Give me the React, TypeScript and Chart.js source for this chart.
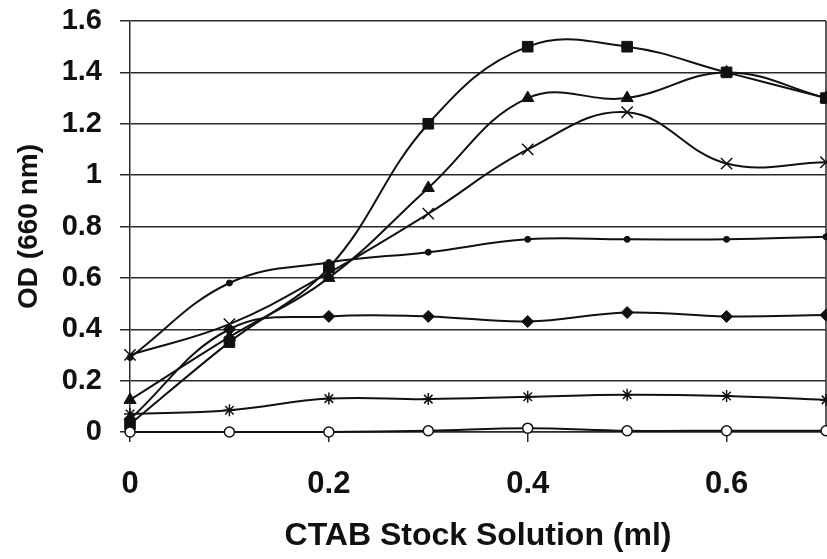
import React, { useEffect, useRef } from "react";
import { Chart, registerables } from "chart.js";

Chart.register(...registerables);

const xValues = [0, 0.1, 0.2, 0.3, 0.4, 0.5, 0.6, 0.7];
const xTickValues = [0, 0.2, 0.4, 0.6];
const seriesSquare = [0.03, 0.35, 0.64, 1.2, 1.5, 1.5, 1.4, 1.3];
const seriesTriangle = [0.125, 0.37, 0.6, 0.95, 1.3, 1.3, 1.4, 1.3];
const seriesCross = [0.3, 0.42, 0.62, 0.85, 1.1, 1.245, 1.045, 1.05];
const seriesDot = [0.29, 0.58, 0.66, 0.7, 0.75, 0.75, 0.75, 0.76];
const seriesDiamond = [0.05, 0.4, 0.45, 0.45, 0.43, 0.465, 0.45, 0.455];
const seriesStar = [0.07, 0.085, 0.13, 0.128, 0.137, 0.145, 0.14, 0.125];
const seriesCircle = [0, 0, 0, 0.005, 0.015, 0.005, 0.005, 0.005];

const xTitle = "CTAB Stock Solution (ml)";
const yTitle = "OD (660 nm)";

const FONT = "'Liberation Sans', Arial, Helvetica, sans-serif";
const INK = "#111";
const GRID = "#2a2a2a";

function toPoints(values: number[]) {
  return values.map((y, i) => ({ x: xValues[i], y }));
}

const rightBorder = {
  id: "rightBorder",
  beforeDatasetsDraw(chart: any) {
    const { ctx, chartArea } = chart;
    ctx.save();
    ctx.strokeStyle = GRID;
    ctx.lineWidth = 1.5;
    ctx.beginPath();
    ctx.moveTo(chartArea.right, chartArea.top);
    ctx.lineTo(chartArea.right, chartArea.bottom);
    ctx.stroke();
    ctx.restore();
  },
};

export default function App() {
  const ref = useRef<HTMLCanvasElement | null>(null);

  useEffect(() => {
    if (!ref.current) return;
    const base = {
      borderColor: INK,
      borderWidth: 2,
      tension: 0.4,
      pointBorderColor: INK,
      pointBackgroundColor: INK,
      fill: false,
      clip: 12,
    };
    const chart = new Chart(ref.current, {
      type: "line",
      data: {
        datasets: [
          { ...base, label: "circle", data: toPoints(seriesCircle), pointStyle: "circle", pointRadius: 5, pointBackgroundColor: "#fff", pointBorderWidth: 1.5 },
          { ...base, label: "star", data: toPoints(seriesStar), pointStyle: "star", pointRadius: 6, pointBorderWidth: 1.5 },
          { ...base, label: "diamond", data: toPoints(seriesDiamond), pointStyle: "rectRot", pointRadius: 6, pointBorderWidth: 1 },
          { ...base, label: "dot", data: toPoints(seriesDot), pointStyle: "circle", pointRadius: 3, pointBorderWidth: 1 },
          { ...base, label: "cross", data: toPoints(seriesCross), pointStyle: "crossRot", pointRadius: 8, pointBorderWidth: 1.5 },
          { ...base, label: "triangle", data: toPoints(seriesTriangle), pointStyle: "triangle", pointRadius: 7, pointBorderWidth: 1 },
          { ...base, label: "square", data: toPoints(seriesSquare), pointStyle: "rect", pointRadius: 7.5, pointBorderWidth: 1 },
        ],
      },
      options: {
        animation: false,
        responsive: true,
        maintainAspectRatio: false,
        layout: { autoPadding: false, padding: { top: 21, right: 1, left: 0, bottom: 0 } },
        plugins: {
          legend: { display: false },
          tooltip: { enabled: false },
        },
        scales: {
          x: {
            type: "linear",
            min: 0,
            max: 0.7,
            afterBuildTicks: (scale: any) => {
              scale.ticks = xTickValues.map((v) => ({ value: v }));
            },
            afterFit: (scale: any) => {
              scale.height = 127;
              scale.paddingLeft = 0;
              scale.paddingRight = 0;
            },
            grid: {
              drawOnChartArea: false,
              drawTicks: true,
              tickLength: 10,
              color: GRID,
              lineWidth: 1.5,
            },
            border: { display: true, color: GRID, width: 1.5 },
            ticks: {
              color: INK,
              padding: 24,
              maxRotation: 0,
              font: { family: FONT, size: 31, weight: "bold" },
              callback: (v: any) => String(v),
            },
            title: {
              display: true,
              text: xTitle,
              color: INK,
              padding: { top: 0, bottom: 4 },
              font: { family: FONT, size: 32, weight: "bold" },
            },
          },
          y: {
            type: "linear",
            min: 0,
            max: 1.6,
            afterFit: (scale: any) => {
              scale.width = 130;
              scale.paddingTop = 0;
              scale.paddingBottom = 0;
            },
            grid: {
              drawOnChartArea: true,
              drawTicks: true,
              tickLength: 10,
              color: GRID,
              lineWidth: 1.5,
            },
            border: { display: true, color: GRID, width: 1.5 },
            ticks: {
              stepSize: 0.2,
              color: INK,
              padding: 18,
              font: { family: FONT, size: 29, weight: "bold" },
              callback: (v: any) => String(Math.round(Number(v) * 10) / 10),
            },
            title: {
              display: true,
              text: yTitle,
              color: INK,
              padding: { top: 12, bottom: 0 },
              font: { family: FONT, size: 28, weight: "bold" },
            },
          },
        },
      },
      plugins: [rightBorder],
    } as any);
    return () => chart.destroy();
  }, []);

  return (
    <div style={{ position: "absolute", left: 0, top: 0, width: 827, height: 559, background: "#fff" }}>
      <canvas ref={ref} />
    </div>
  );
}
